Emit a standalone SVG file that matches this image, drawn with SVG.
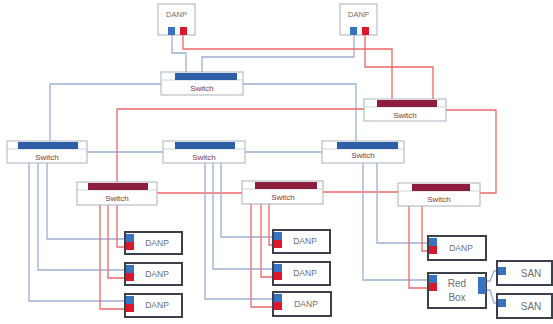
<svg xmlns="http://www.w3.org/2000/svg" width="553" height="324" viewBox="0 0 553 324">
<style>
.bl{fill:none;stroke:#9db0d3;stroke-width:1.3}
.rl{fill:none;stroke:#ec6767;stroke-width:1.3}
.sw{fill:#fff;stroke:#a9b1bc;stroke-width:1}
.sep{stroke:#c3c9d1;stroke-width:0.8}
.bb{fill:#2f5fa6}
.rb{fill:#8c1d3c}
.st{font-family:"Liberation Sans",Arial,sans-serif;font-size:8px;fill:#7a3a44;text-anchor:middle}
.dt{font-family:"Liberation Sans",Arial,sans-serif;font-size:7.5px;fill:#6a6f78;text-anchor:middle}
.bt{font-family:"Liberation Sans",Arial,sans-serif;font-size:8.5px;fill:#6a6f78;text-anchor:middle}
.ls{font-family:"Liberation Sans",Arial,sans-serif;font-size:10px;fill:#6a6f78;text-anchor:middle}
.tb{fill:#fff;stroke:#a9b1bc;stroke-width:1}
.db{fill:#fff;stroke:#3b404a;stroke-width:2}
.pb{fill:#3a73bd}
.pr{fill:#d7192b}
</style>
<rect width="553" height="324" fill="#fff"/>
<g id="connectors">
<polyline class="bl" points="172,35 172,53 186,53 186,72"/>
<polyline class="bl" points="354,35 354,57 202,57 202,72"/>
<polyline class="rl" points="183,35 183,49 392,49 392,99"/>
<polyline class="rl" points="365,35 365,67 433,67 433,99"/>
<polyline class="bl" points="161,84 50,84 50,141"/>
<polyline class="bl" points="243,84 356,84 356,141"/>
<polyline class="bl" points="87,152 163,152"/>
<polyline class="bl" points="245,152 322,152"/>
<polyline class="rl" points="364,109 117,109 117,182"/>
<polyline class="rl" points="446,110 496,110 496,193 480,193"/>
<polyline class="rl" points="157,193 242,193"/>
<polyline class="rl" points="323,192 398,192"/>
<polyline class="bl" points="29,163 29,301 125,301"/>
<polyline class="bl" points="38,163 38,270 125,270"/>
<polyline class="bl" points="47,163 47,239 125,239"/>
<polyline class="rl" points="117,205 117,247 125,247"/>
<polyline class="rl" points="108,205 108,278 125,278"/>
<polyline class="rl" points="100,205 100,309 125,309"/>
<polyline class="bl" points="205,163 205,299 273,299"/>
<polyline class="bl" points="213,163 213,269 273,269"/>
<polyline class="bl" points="221,163 221,237 273,237"/>
<polyline class="rl" points="251,204 251,307 273,307"/>
<polyline class="rl" points="261,204 261,277 273,277"/>
<polyline class="rl" points="269,204 269,245 273,245"/>
<polyline class="bl" points="363,163 363,280 428,280"/>
<polyline class="bl" points="377,163 377,243 428,243"/>
<polyline class="rl" points="409,206 409,288 428,288"/>
<polyline class="rl" points="422,206 422,251 428,251"/>
<polyline class="bl" points="486,281 490,281 494,271 497,271"/>
<polyline class="bl" points="486,290 490,290 494,303 497,303"/>
</g>
<g id="danp-top-1">
<rect class="tb" x="158" y="4" width="37" height="31"/>
<text class="dt" x="176.5" y="17">DANP</text>
<rect class="pb" x="168" y="27" width="7" height="8"/>
<rect class="pr" x="180" y="27" width="7" height="8"/>
</g>
<g id="danp-top-2">
<rect class="tb" x="340" y="4" width="37" height="31"/>
<text class="dt" x="358.5" y="17">DANP</text>
<rect class="pb" x="350" y="27" width="7" height="8"/>
<rect class="pr" x="362" y="27" width="7" height="8"/>
</g>
<g id="switch-top">
<rect class="sw" x="161" y="72" width="82" height="23"/>
<line class="sep" x1="161" y1="80" x2="243" y2="80"/>
<rect class="bb" x="175" y="73" width="62" height="7"/>
<text class="st" x="202" y="91">Switch</text>
</g>
<g id="switch-red-upper">
<rect class="sw" x="364" y="99" width="82" height="22"/>
<line class="sep" x1="364" y1="107" x2="446" y2="107"/>
<rect class="rb" x="377" y="100" width="60" height="7"/>
<text class="st" x="405" y="118">Switch</text>
</g>
<g id="switch-blue-left">
<rect class="sw" x="7" y="141" width="80" height="22"/>
<line class="sep" x1="7" y1="149" x2="87" y2="149"/>
<rect class="bb" x="18" y="142" width="60" height="7"/>
<text class="st" x="47" y="160">Switch</text>
</g>
<g id="switch-blue-center">
<rect class="sw" x="163" y="141" width="82" height="22"/>
<line class="sep" x1="163" y1="149" x2="245" y2="149"/>
<rect class="bb" x="175" y="142" width="60" height="7"/>
<text class="st" x="204" y="160">Switch</text>
</g>
<g id="switch-blue-right">
<rect class="sw" x="322" y="141" width="82" height="22"/>
<line class="sep" x1="322" y1="149" x2="404" y2="149"/>
<rect class="bb" x="337" y="142" width="61" height="7"/>
<text class="st" x="363" y="158">Switch</text>
</g>
<g id="switch-red-left">
<rect class="sw" x="77" y="182" width="80" height="23"/>
<line class="sep" x1="77" y1="190" x2="157" y2="190"/>
<rect class="rb" x="88" y="183" width="60" height="7"/>
<text class="st" x="117" y="201">Switch</text>
</g>
<g id="switch-red-center">
<rect class="sw" x="242" y="181" width="81" height="23"/>
<line class="sep" x1="242" y1="189" x2="323" y2="189"/>
<rect class="rb" x="255" y="182" width="62" height="7"/>
<text class="st" x="283" y="200">Switch</text>
</g>
<g id="switch-red-right">
<rect class="sw" x="398" y="183" width="82" height="23"/>
<line class="sep" x1="398" y1="191" x2="480" y2="191"/>
<rect class="rb" x="412" y="184" width="58" height="7"/>
<text class="st" x="439" y="202">Switch</text>
</g>
<g id="danp-l1">
<rect class="db" x="125" y="232" width="57" height="22"/>
<rect class="pb" x="126" y="234" width="8" height="8"/>
<rect class="pr" x="126" y="242" width="8" height="8"/>
<text class="bt" x="157" y="246">DANP</text>
</g>
<g id="danp-l2">
<rect class="db" x="125" y="263" width="57" height="22"/>
<rect class="pb" x="126" y="265" width="8" height="8"/>
<rect class="pr" x="126" y="273" width="8" height="8"/>
<text class="bt" x="157" y="277">DANP</text>
</g>
<g id="danp-l3">
<rect class="db" x="125" y="294" width="57" height="23"/>
<rect class="pb" x="126" y="296" width="8" height="8"/>
<rect class="pr" x="126" y="304" width="8" height="8"/>
<text class="bt" x="157" y="308">DANP</text>
</g>
<g id="danp-m1">
<rect class="db" x="273" y="230" width="57" height="23"/>
<rect class="pb" x="274" y="232" width="8" height="8"/>
<rect class="pr" x="274" y="240" width="8" height="8"/>
<text class="bt" x="305" y="244">DANP</text>
</g>
<g id="danp-m2">
<rect class="db" x="273" y="262" width="57" height="23"/>
<rect class="pb" x="274" y="264" width="8" height="8"/>
<rect class="pr" x="274" y="272" width="8" height="8"/>
<text class="bt" x="305" y="276">DANP</text>
</g>
<g id="danp-m3">
<rect class="db" x="273" y="292" width="58" height="24"/>
<rect class="pb" x="274" y="294" width="8" height="8"/>
<rect class="pr" x="274" y="302" width="8" height="8"/>
<text class="bt" x="306" y="307">DANP</text>
</g>
<g id="danp-r1">
<rect class="db" x="428" y="236" width="58" height="24"/>
<rect class="pb" x="429" y="238" width="8" height="8"/>
<rect class="pr" x="429" y="246" width="8" height="8"/>
<text class="bt" x="461" y="251">DANP</text>
</g>
<g id="redbox">
<rect class="db" x="428" y="273" width="58" height="35"/>
<rect class="pb" x="429" y="275" width="8" height="8"/>
<rect class="pr" x="429" y="283" width="8" height="8"/>
<rect class="pb" x="478" y="277" width="8" height="17"/>
<text class="ls" x="457" y="287">Red</text>
<text class="ls" x="457" y="301">Box</text>
</g>
<g id="san-1">
<rect class="db" x="497" y="261" width="55" height="24"/>
<rect class="pb" x="498" y="267" width="8" height="8"/>
<text class="ls" x="531" y="277">SAN</text>
</g>
<g id="san-2">
<rect class="db" x="497" y="294" width="55" height="24"/>
<rect class="pb" x="498" y="299" width="8" height="8"/>
<text class="ls" x="531" y="310">SAN</text>
</g>
</svg>
